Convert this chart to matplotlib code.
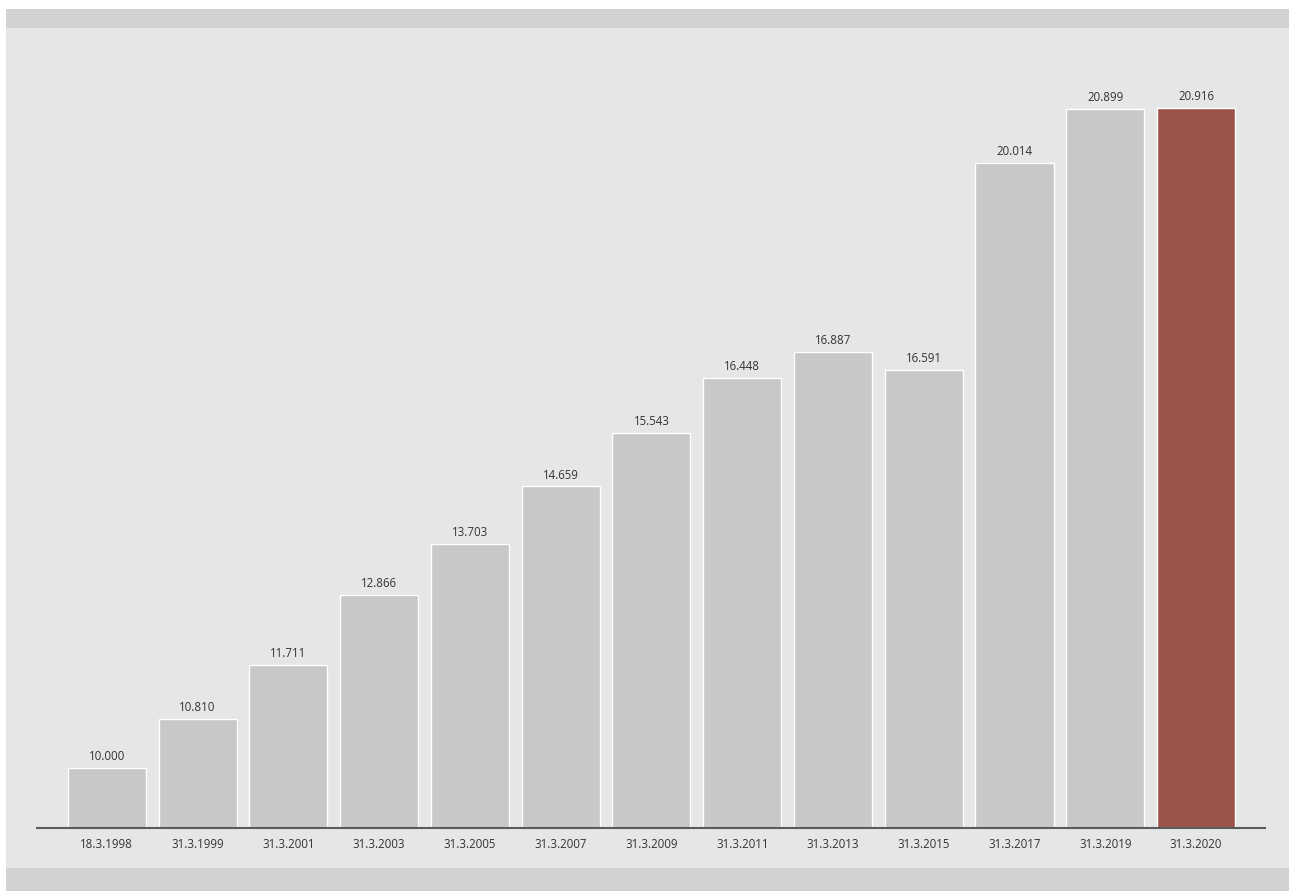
import matplotlib
matplotlib.use("Agg")
import matplotlib.pyplot as plt
from matplotlib.patches import Rectangle

dates = ["18.3.1998", "31.3.1999", "31.3.2001", "31.3.2003", "31.3.2005", "31.3.2007",
         "31.3.2009", "31.3.2011", "31.3.2013", "31.3.2015", "31.3.2017", "31.3.2019", "31.3.2020"]
values = [10.000, 10.810, 11.711, 12.866, 13.703, 14.659, 15.543, 16.448, 16.887, 16.591,
          20.014, 20.899, 20.916]
labels = ["10.000", "10.810", "11.711", "12.866", "13.703", "14.659", "15.543", "16.448",
          "16.887", "16.591", "20.014", "20.899", "20.916"]

W, H = 1290, 891
plt.rcParams['font.family'] = ['Open Sans', 'DejaVu Sans']
fig = plt.figure(figsize=(W / 100, H / 100), dpi=100)
fig.patch.set_facecolor("white")

def fy(py):
    return 1 - py / H

# background panels
fig.patches.append(Rectangle((6 / W, fy(891)), (1289 - 6) / W, (891 - 9) / H,
                             transform=fig.transFigure, facecolor="#e5e6e8", edgecolor="none", zorder=-3))
fig.patches.append(Rectangle((6 / W, fy(28)), (1289 - 6) / W, (28 - 9) / H,
                             transform=fig.transFigure, facecolor="#d1d2d4", edgecolor="none", zorder=-2))
fig.patches.append(Rectangle((6 / W, fy(891)), (1289 - 6) / W, (891 - 868) / H,
                             transform=fig.transFigure, facecolor="#d1d2d4", edgecolor="none", zorder=-2))

ax_left, ax_right = 37, 1265
ax_top, ax_bottom = 28, 828.3
ax = fig.add_axes([ax_left / W, fy(ax_bottom), (ax_right - ax_left) / W, (ax_bottom - ax_top) / H])
ax.set_facecolor("none")

ymin = 9.008
px_per_unit = 60.49
ymax = ymin + (ax_bottom - ax_top) / px_per_unit
ax.set_ylim(ymin, ymax)
ax.set_xlim(-0.77, 12.76)

x = list(range(len(values)))
colors = ["#c7c8ca"] * (len(values) - 1) + ["#9c5349"]
heights = [v - ymin for v in values]
ax.bar(x, heights, bottom=ymin, width=0.86, color=colors, edgecolor="white", linewidth=1.0, zorder=2)

for xi, v, lab in zip(x, values, labels):
    ax.annotate(lab, (xi, v), xytext=(0, 3.5), textcoords="offset points", ha="center", va="bottom",
                fontsize=8.3, color="#333333")

ax.set_xticks(x)
ax.set_xticklabels(dates, fontsize=8.3, color="#333333")
ax.tick_params(axis="x", length=0, pad=7)
ax.set_yticks([])
for s in ["top", "right", "left"]:
    ax.spines[s].set_visible(False)
ax.spines["bottom"].set_color("#5a5b5d")
ax.spines["bottom"].set_linewidth(1.5)
ax.spines["bottom"].set_zorder(3)

fig.savefig("out.png", dpi=100, facecolor=fig.get_facecolor())
